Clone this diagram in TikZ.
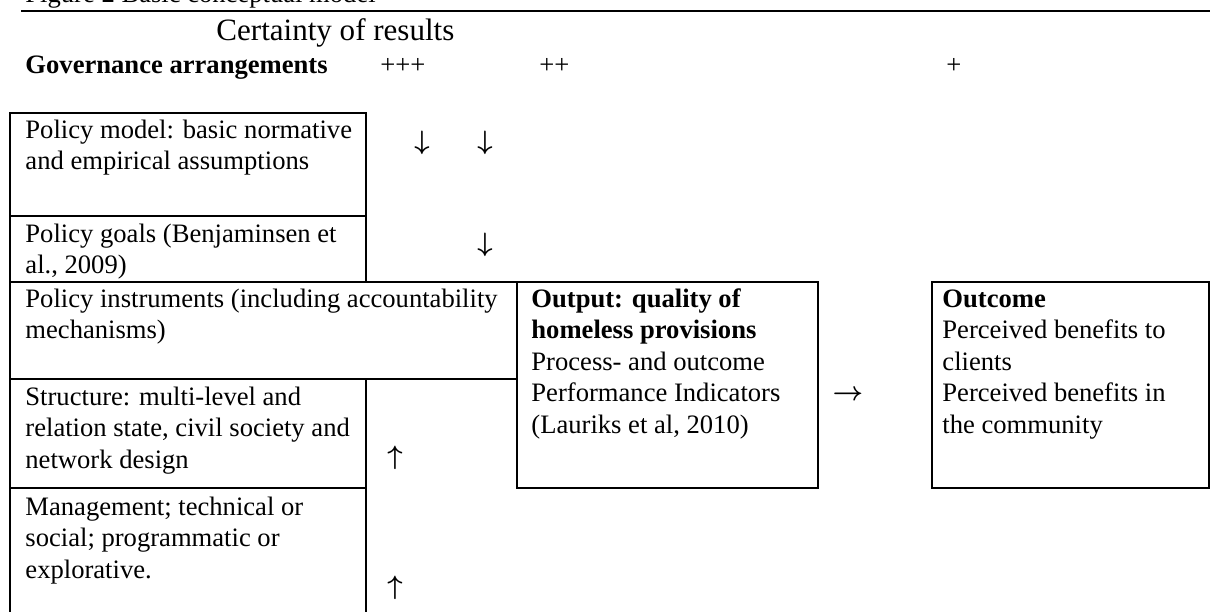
\documentclass[tikz,border=0pt]{standalone}
\usepackage{amsmath}
\usepackage{fontspec}
\setmainfont{Liberation Serif}
\newcommand\cellfont{\fontsize{12}{14.2}\selectfont}
\newcommand\headfont{\fontsize{14}{16.5}\selectfont}
\tikzset{
  lines/.style={line width=0.9pt},
  celltext/.style={anchor=north west,inner sep=0pt,align=left,font=\cellfont},
  rowtext/.style={anchor=base west,inner sep=0pt,font=\cellfont},
  flowmark/.style={inner sep=0pt,font=\cellfont}
}
\begin{document}
\begin{tikzpicture}[x=0.451pt,y=-0.451pt]
\useasboundingbox (0,0) rectangle (1210,612);
\coordinate (A) at (10,113);
\coordinate (B) at (366,216);
\coordinate (C) at (10,282);
\coordinate (D) at (517,379);
\coordinate (E) at (366,488);
\coordinate (F) at (818,488);
\coordinate (G) at (932,282);
\coordinate (H) at (1209,488);
\draw[lines] (21,11) -- (1210,11);
\draw[lines] (A) rectangle (B) (10,216) rectangle (366,282) (C) rectangle (D);
\draw[lines] (10,379) rectangle (E) (10,488) -- (10,625) (366,488) -- (366,625);
\draw[lines] (517,282) rectangle (F) (G) rectangle (H);
\node[rowtext] (fig) at (25,3) {Figure 2 Basic conceptual model};
\node[rowtext,font=\headfont] (cert) at (216,41) {Certainty of results};
\node[rowtext] (gov) at (25,74) {\textbf{Governance arrangements}};
\node[rowtext] (plus3) at (380,74) {+++};
\node[rowtext] (plus2) at (539,74) {++};
\node[rowtext] (plus1) at (946,74) {+};
\node[celltext] (model) at (25,116) {\strut Policy model: basic normative\\and empirical assumptions};
\node[celltext] (goals) at (25,220) {\strut Policy goals (Benjaminsen et\\al., 2009)};
\node[celltext] (instr) at (25,285) {\strut Policy instruments (including accountability\\mechanisms)};
\node[celltext] (struct) at (25,383) {\strut Structure: multi-level and\\relation state, civil society and\\network design};
\node[celltext] (manag) at (25,493) {\strut Management; technical or\\social; programmatic or\\explorative.};
\node[celltext] (output) at (531,285) {\strut\textbf{Output: quality of}\\\textbf{homeless provisions}\\Process- and outcome\\Performance Indicators\\(Lauriks et al, 2010)};
\node[celltext] (outcome) at (942,285) {\strut\textbf{Outcome}\\Perceived benefits to\\clients\\Perceived benefits in\\the community};
\node[flowmark] (down1) at (422,143) {$\boldsymbol{\downarrow}$};
\node[flowmark] (down2) at (485,143) {$\boldsymbol{\downarrow}$};
\node[flowmark] (down3) at (485,245) {$\boldsymbol{\downarrow}$};
\node[flowmark] (up1) at (395,458) {$\boldsymbol{\uparrow}$};
\node[flowmark] (up2) at (395,588) {$\boldsymbol{\uparrow}$};
\node[flowmark] (right) at (848,395) {$\boldsymbol{\rightarrow}$};
\end{tikzpicture}
\end{document}
